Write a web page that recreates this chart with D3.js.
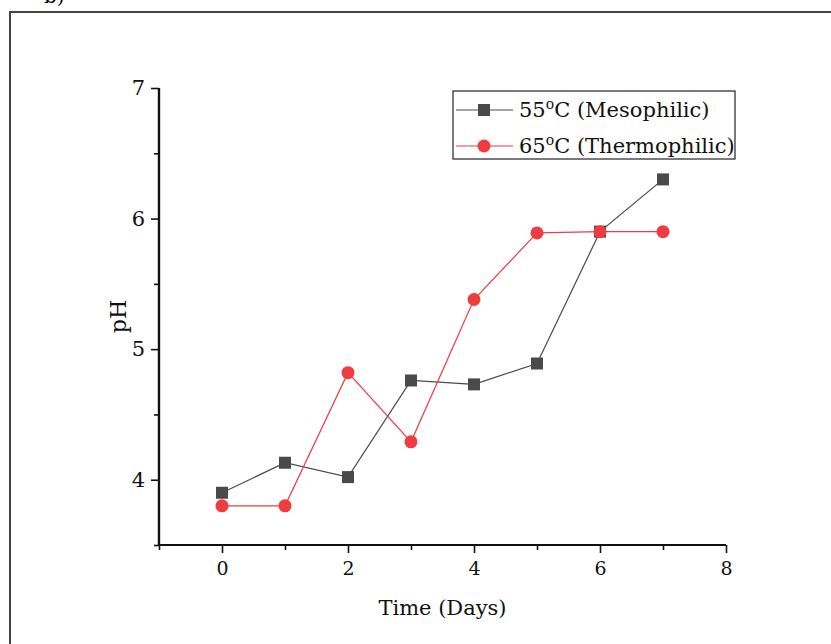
<!DOCTYPE html>
<html>
<head>
<meta charset="utf-8">
<script src="https://cdn.jsdelivr.net/npm/d3@7"></script>
<style>
  body { margin: 0; background: #fff; }
  svg { display: block; font-family: "DejaVu Serif", "Liberation Serif", serif; }
</style>
</head>
<body>
<div id="viz"></div>
<script>
const width = 831, height = 644;

// data
const days = [0, 1, 2, 3, 4, 5, 6, 7];
const meso = [3.9, 4.13, 4.02, 4.76, 4.73, 4.89, 5.9, 6.3];
const thermo = [3.8, 3.8, 4.82, 4.29, 5.38, 5.89, 5.9, 5.9];
const xTicks = [0, 2, 4, 6, 8];
const xMinor = [-1, 1, 3, 5, 7];
const yTicks = [4, 5, 6, 7];
const yMinor = [3.5, 4.5, 5.5, 6.5];
const seriesNames = ["55", "65"];
const seriesLabels = [" (Mesophilic)", " (Thermophilic)"];

const grey = "#4a4a4a", red = "#f03c40";

const svg = d3.select("#viz").append("svg")
  .attr("width", width)
  .attr("height", height);

// outer frame (only top and left edges visible)
svg.append("path")
  .attr("d", `M10,${height + 5} V12 H${width + 5}`)
  .attr("fill", "none")
  .attr("stroke", "#444")
  .attr("stroke-width", 2);

// panel label, mostly cut off at the top as in the original
svg.append("text")
  .attr("x", 44).attr("y", 3)
  .attr("font-size", 20)
  .text("b)");

const x = d3.scaleLinear().domain([-1, 8]).range([159, 726]);
const y = d3.scaleLinear().domain([3.5, 7]).range([545, 88]);

// x axis
const gx = svg.append("g").attr("transform", `translate(0,${y(3.5)})`);
gx.call(d3.axisBottom(x).tickValues(xTicks).tickSize(8).tickPadding(9).tickFormat(d3.format("d")));
gx.append("g").call(d3.axisBottom(x).tickValues(xMinor).tickSize(5).tickFormat(""));
gx.selectAll(".domain").attr("stroke-width", 2.2).attr("stroke", "#111");
gx.selectAll(".tick line").attr("stroke-width", 1.6).attr("stroke", "#111");
gx.selectAll("text").attr("font-size", 19).attr("font-family", "DejaVu Serif, serif").attr("fill", "#111");

// y axis
const gy = svg.append("g").attr("transform", `translate(${x(-1)},0)`);
gy.call(d3.axisLeft(y).tickValues(yTicks).tickSize(8).tickPadding(6).tickFormat(d3.format("d")));
gy.append("g").call(d3.axisLeft(y).tickValues(yMinor).tickSize(5).tickFormat(""));
gy.selectAll(".domain").attr("stroke-width", 2.2).attr("stroke", "#111");
gy.selectAll(".tick line").attr("stroke-width", 1.6).attr("stroke", "#111");
gy.selectAll("text").attr("font-size", 21).attr("font-family", "DejaVu Serif, serif").attr("fill", "#111");
gx.selectAll(".domain").attr("d", `M${x(-1)},0H${x(8)}`);
gy.selectAll(".domain").attr("d", `M0,${y(3.5)}V${y(7)}`);

// axis titles
svg.append("text")
  .attr("x", (x(-1) + x(8)) / 2).attr("y", 615)
  .attr("text-anchor", "middle")
  .attr("font-size", 21)
  .attr("fill", "#111")
  .text("Time (Days)");

svg.append("text")
  .attr("transform", `translate(126,${y(5.25)}) rotate(-90)`)
  .attr("text-anchor", "middle")
  .attr("font-size", 22)
  .attr("fill", "#111")
  .text("pH");

// lines
const line = d3.line().x((d, i) => x(days[i])).y(d => y(d));

svg.append("path").datum(meso)
  .attr("d", line).attr("fill", "none")
  .attr("stroke", grey).attr("stroke-width", 1.2);

svg.append("path").datum(thermo)
  .attr("d", line).attr("fill", "none")
  .attr("stroke", red).attr("stroke-width", 1.2);

// markers
svg.selectAll(".sq").data(meso).enter().append("rect")
  .attr("x", (d, i) => x(days[i]) - 6)
  .attr("y", d => y(d) - 6)
  .attr("width", 12).attr("height", 12)
  .attr("fill", grey);

svg.selectAll(".ci").data(thermo).enter().append("circle")
  .attr("cx", (d, i) => x(days[i]))
  .attr("cy", d => y(d))
  .attr("r", 6.5)
  .attr("fill", red);

// legend
const legend = svg.append("g").attr("transform", "translate(453,91)");
legend.append("rect")
  .attr("width", 282).attr("height", 68)
  .attr("fill", "#fff").attr("stroke", "#222").attr("stroke-width", 1.2);

[0, 1].forEach(i => {
  const row = legend.append("g").attr("transform", `translate(0,${19 + i * 36})`);
  const c = i === 0 ? grey : red;
  row.append("line").attr("x1", 3).attr("x2", 60)
    .attr("stroke", c).attr("stroke-width", 1.2);
  if (i === 0) {
    row.append("rect").attr("x", 25).attr("y", -6).attr("width", 12).attr("height", 12).attr("fill", c);
  } else {
    row.append("circle").attr("cx", 31).attr("r", 6.5).attr("fill", c);
  }
  const t = row.append("text").attr("x", 66).attr("y", 7)
    .attr("font-size", 21).attr("fill", "#111");
  t.append("tspan").text(seriesNames[i]);
  t.append("tspan").attr("font-size", 14).attr("dy", -8).text("o");
  t.append("tspan").attr("dy", 8).text("C" + seriesLabels[i]);
});
</script>
</body>
</html>
